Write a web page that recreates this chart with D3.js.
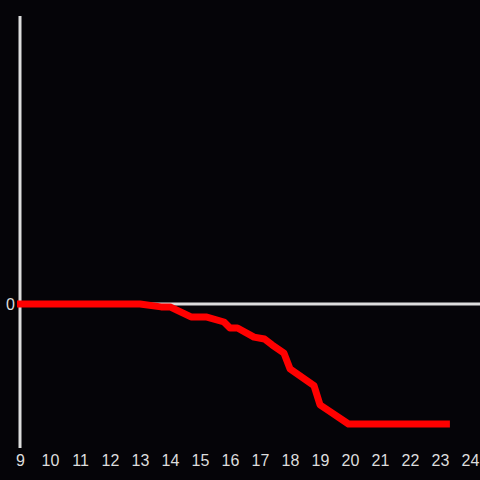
<!DOCTYPE html>
<html>
<head>
<meta charset="utf-8">
<script src="https://cdn.jsdelivr.net/npm/d3@7"></script>
<style>
  html, body { margin: 0; padding: 0; background: #050408; }
  svg { display: block; }
</style>
</head>
<body>
<svg></svg>
<script>
// hours on the x axis
const hourTicks = [9, 10, 11, 12, 13, 14, 15, 16, 17, 18, 19, 20, 21, 22, 23, 24];
// red series: time (h) and value
const times = [8.9, 13, 13.7, 14.0, 14.7, 15.2, 15.8, 16.0, 16.25, 16.8, 17.15, 17.4, 17.8, 18.0, 18.8, 19.0, 19.3, 19.95, 23.33];
const values = [0, 0, -0.12, -0.12, -0.54, -0.54, -0.75, -1.0, -1.0, -1.38, -1.46, -1.7, -2.05, -2.7, -3.4, -4.2, -4.45, -5, -5];
const yTicks = [0];

const width = 480, height = 480;
const svg = d3.select('svg').attr('width', width).attr('height', height);

svg.append('rect').attr('width', width).attr('height', height).attr('fill', '#050408');

const x = d3.scaleLinear().domain([9, 24]).range([20, 470]);
const y = d3.scaleLinear().domain([-6, 12]).range([448, 16]);

const labelFont = '"Liberation Sans Narrow", "Liberation Sans", Arial, sans-serif';

// zero line
svg.append('line')
  .attr('x1', x(9)).attr('x2', width)
  .attr('y1', y(0)).attr('y2', y(0))
  .style('stroke', '#dddddd')
  .style('stroke-width', 3);

// y axis line
svg.append('line')
  .attr('x1', x(9)).attr('x2', x(9))
  .attr('y1', y(12)).attr('y2', y(-6))
  .style('stroke', '#dddddd')
  .style('stroke-width', 3);

// x tick labels
const xAxis = svg.append('g')
  .attr('transform', `translate(0,${y(-6)})`)
  .call(d3.axisBottom(x).tickValues(hourTicks).tickSize(0).tickPadding(7).tickFormat(d3.format('d')));
xAxis.select('.domain').remove();
xAxis.selectAll('text')
  .attr('fill', '#dddddd')
  .style('font-family', labelFont)
  .style('font-size', '16px');

// y tick label
const yAxis = svg.append('g')
  .attr('transform', `translate(${x(9)},0)`)
  .call(d3.axisLeft(y).tickValues(yTicks).tickSize(0).tickPadding(5));
yAxis.select('.domain').remove();
yAxis.selectAll('text')
  .attr('fill', '#dddddd')
  .style('font-family', labelFont)
  .style('font-size', '16px');

// red line
const pts = times.map((t, i) => [t, values[i]]);
const line = d3.line().x((d) => x(d[0])).y((d) => y(d[1]));
svg.append('path')
  .datum(pts)
  .attr('d', line)
  .style('fill', 'none')
  .style('stroke', '#ff0000')
  .style('stroke-width', 7)
  .style('stroke-linejoin', 'round');
</script>
</body>
</html>
